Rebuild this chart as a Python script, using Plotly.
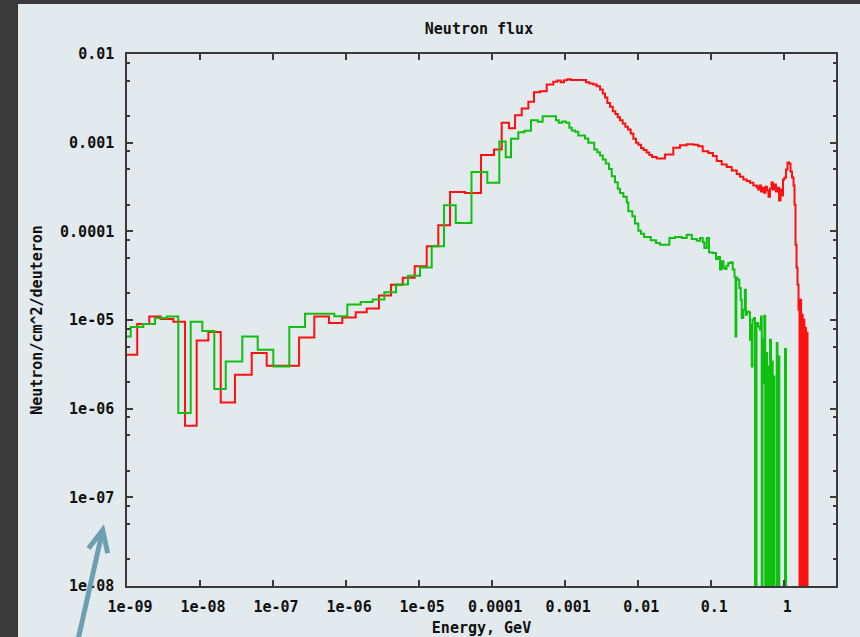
import plotly.graph_objects as go

# Neutron flux spectra: histogram bin lower edges in GeV (final upper edge appended)
# and the flux per bin in neutron/cm^2/deuteron. A zero marks an empty bin.
red_energy = [
    1.00e-9, 1.38e-9, 2.02e-9, 2.89e-9, 4.31e-9, 6.23e-9, 9.00e-9, 1.30e-8, 1.92e-8, 3.01e-8,
    5.10e-8, 8.18e-8, 2.27e-7, 3.67e-7, 5.83e-7, 8.87e-7, 1.354e-6, 1.915e-6, 2.82e-6, 4.12e-6,
    5.96e-6, 8.70e-6, 1.270e-5, 1.830e-5, 2.65e-5, 4.25e-5, 7.04e-5, 1.060e-4, 1.351e-4, 1.701e-4,
    2.06e-4, 2.54e-4, 3.13e-4, 3.74e-4, 4.52e-4, 5.58e-4, 6.88e-4, 7.80e-4, 8.68e-4, 9.63e-4,
    1.069e-3, 1.191e-3, 1.928e-3, 2.14e-3, 2.43e-3, 2.70e-3, 3.00e-3, 3.27e-3, 3.51e-3, 3.78e-3,
    4.11e-3, 4.48e-3, 4.86e-3, 5.24e-3, 5.63e-3, 6.13e-3, 6.66e-3, 7.25e-3, 7.89e-3, 8.57e-3,
    9.33e-3, 1.003e-2, 1.092e-2, 1.182e-2, 1.299e-2, 1.419e-2, 1.545e-2, 1.792e-2, 2.33e-2, 3.02e-2,
    3.73e-2, 4.61e-2, 5.68e-2, 6.65e-2, 7.64e-2, 9.12e-2, 0.1057, 0.1188, 0.1391, 0.1628,
    0.1906, 0.2232, 0.2476, 0.2748, 0.3060, 0.3395, 0.3767, 0.4194, 0.4370, 0.4582,
    0.4803, 0.5035, 0.5279, 0.5534, 0.5801, 0.6083, 0.6378, 0.6686, 0.7010, 0.7349,
    0.7704, 0.8078, 0.8469, 0.8879, 0.9309, 0.9607, 1.0072, 1.056, 1.107, 1.161,
    1.217, 1.276, 1.338, 1.381, 1.425, 1.471, 1.518, 1.566, 1.616, 1.658,
    1.700, 1.744, 1.788, 1.834, 1.881, 1.928, 1.978, 2.028, 2.080,
]
red_flux = [
    4.06e-6, 9.02e-6, 1.098e-5, 1.026e-5, 9.57e-6, 6.41e-7, 5.89e-6, 7.32e-6, 1.175e-6, 2.41e-6,
    4.24e-6, 3.05e-6, 6.36e-6, 1.098e-5, 9.25e-6, 1.070e-5, 1.219e-5, 1.352e-5, 1.895e-5, 2.50e-5,
    3.00e-5, 4.03e-5, 6.77e-5, 1.168e-4, 2.78e-4, 2.71e-4, 7.24e-4, 8.36e-4, 1.674e-3, 1.454e-3,
    2.04e-3, 2.43e-3, 2.89e-3, 3.71e-3, 3.80e-3, 4.53e-3, 4.86e-3, 5.02e-3, 4.80e-3, 5.06e-3,
    5.19e-3, 5.09e-3, 4.80e-3, 4.65e-3, 4.53e-3, 4.33e-3, 3.97e-3, 3.58e-3, 3.23e-3, 2.81e-3,
    2.54e-3, 2.26e-3, 2.11e-3, 1.935e-3, 1.790e-3, 1.643e-3, 1.508e-3, 1.405e-3, 1.267e-3, 1.104e-3,
    9.95e-4, 9.45e-4, 8.69e-4, 8.25e-4, 7.73e-4, 7.24e-4, 6.88e-4, 6.61e-4, 7.34e-4, 8.74e-4,
    9.35e-4, 9.59e-4, 9.47e-4, 9.11e-4, 7.99e-4, 7.67e-4, 7.06e-4, 6.20e-4, 5.66e-4, 5.33e-4,
    4.84e-4, 4.42e-4, 4.14e-4, 3.83e-4, 3.69e-4, 3.52e-4, 3.28e-4, 3.17e-4, 2.96e-4, 3.28e-4,
    2.81e-4, 3.11e-4, 2.73e-4, 3.19e-4, 2.88e-4, 2.46e-4, 3.03e-4, 3.55e-4, 2.96e-4, 3.37e-4,
    2.81e-4, 3.11e-4, 2.22e-4, 2.96e-4, 2.53e-4, 3.83e-4, 4.04e-4, 4.97e-4, 5.96e-4, 5.81e-4,
    4.72e-4, 4.04e-4, 3.28e-4, 2.00e-4, 7.08e-5, 3.89e-5, 2.50e-5, 1.307e-5, 0, 1.694e-5,
    0, 1.148e-5, 0, 1.008e-5, 0, 8.18e-6, 0, 7.19e-6,
]

green_energy = [
    1.00e-9, 1.124e-9, 1.672e-9, 2.42e-9, 3.50e-9, 5.04e-9, 7.45e-9, 1.074e-8, 1.568e-8, 2.25e-8,
    3.79e-8, 6.16e-8, 1.008e-7, 1.669e-7, 2.74e-7, 6.90e-7, 1.039e-6, 1.585e-6, 2.31e-6, 3.34e-6,
    4.83e-6, 7.04e-6, 1.028e-5, 1.487e-5, 2.19e-5, 3.17e-5, 5.21e-5, 8.58e-5, 1.253e-4, 1.533e-4,
    1.812e-4, 2.28e-4, 2.76e-4, 3.40e-4, 4.21e-4, 4.92e-4, 7.49e-4, 8.15e-4, 9.13e-4, 1.026e-3,
    1.139e-3, 1.228e-3, 1.363e-3, 1.512e-3, 1.868e-3, 2.07e-3, 2.50e-3, 2.75e-3, 3.00e-3, 3.27e-3,
    3.59e-3, 3.98e-3, 4.34e-3, 4.81e-3, 5.24e-3, 5.63e-3, 6.25e-3, 6.96e-3, 7.32e-3, 8.30e-3,
    9.04e-3, 1.003e-2, 1.092e-2, 1.200e-2, 1.483e-2, 1.752e-2, 1.988e-2, 2.67e-2, 3.19e-2, 3.94e-2,
    4.61e-2, 5.40e-2, 6.32e-2, 7.02e-2, 7.64e-2, 8.04e-2, 8.67e-2, 9.32e-2, 0.1047, 0.1162,
    0.1249, 0.1318, 0.1391, 0.1472, 0.1543, 0.1618, 0.1712, 0.1847, 0.1967, 0.2083,
    0.2149, 0.2204, 0.2275, 0.2423, 0.2532, 0.2613, 0.2748, 0.2881, 0.2973, 0.3088,
    0.3237, 0.3395, 0.3481, 0.3581, 0.3673, 0.3851, 0.3975, 0.4166, 0.4410, 0.4653,
    0.4803, 0.4909, 0.5035, 0.5164, 0.5329, 0.5482, 0.5622, 0.5801, 0.5987, 0.6179,
    0.6378, 0.6581, 0.6729, 0.6944, 0.7122, 0.7303, 0.7876, 0.8078, 0.8283, 0.8551,
    1.023, 1.056,
]
green_flux = [
    6.53e-6, 8.34e-6, 9.02e-6, 1.053e-5, 1.098e-5, 8.92e-7, 9.57e-6, 7.51e-6, 1.664e-6, 3.41e-6,
    6.53e-6, 4.62e-6, 2.99e-6, 8.34e-6, 1.178e-5, 1.104e-5, 1.500e-5, 1.596e-5, 1.708e-5, 2.05e-5,
    2.52e-5, 3.16e-5, 3.92e-5, 6.77e-5, 1.966e-4, 1.244e-4, 4.66e-4, 3.52e-4, 1.029e-3, 6.84e-4,
    1.104e-3, 1.310e-3, 1.359e-3, 1.790e-3, 1.717e-3, 1.986e-3, 1.790e-3, 1.674e-3, 1.730e-3, 1.674e-3,
    1.469e-3, 1.370e-3, 1.324e-3, 1.202e-3, 1.113e-3, 9.95e-4, 8.36e-4, 7.79e-4, 7.15e-4, 6.45e-4,
    5.81e-4, 5.06e-4, 4.18e-4, 3.57e-4, 3.03e-4, 2.71e-4, 2.46e-4, 2.11e-4, 1.681e-4, 1.476e-4,
    1.222e-4, 1.018e-4, 9.42e-5, 8.65e-5, 7.91e-5, 7.40e-5, 7.08e-5, 8.42e-5, 8.65e-5, 8.42e-5,
    9.18e-5, 8.21e-5, 7.85e-5, 8.42e-5, 7.51e-5, 6.49e-5, 8.42e-5, 5.79e-5, 5.70e-5, 4.88e-5,
    5.14e-5, 3.70e-5, 4.59e-5, 3.89e-5, 3.76e-5, 4.10e-5, 4.40e-5, 4.47e-5, 3.70e-5, 3.08e-5,
    6.53e-6, 3.00e-5, 2.85e-5, 2.30e-5, 1.694e-5, 1.053e-5, 1.307e-5, 2.20e-5, 1.148e-5, 1.251e-5,
    1.219e-5, 5.99e-6, 8.85e-6, 2.99e-6, 1.008e-5, 1.053e-5, 0, 9.25e-6, 8.47e-6, 7.77e-6,
    1.098e-5, 0, 5.99e-6, 1.945e-6, 1.118e-5, 0, 4.24e-6, 0, 2.99e-6, 0,
    5.99e-6, 0, 3.41e-6, 0, 2.31e-6, 0, 5.50e-6, 0, 3.88e-6, 0,
    4.71e-6,
]

x_tickvals = [1e-9, 1e-8, 1e-7, 1e-6, 1e-5, 1e-4, 1e-3, 1e-2, 1e-1, 1]
x_ticktext = ["1e-09", "1e-08", "1e-07", "1e-06", "1e-05", "0.0001", "0.001", "0.01", "0.1", "1"]
y_tickvals = [1e-8, 1e-7, 1e-6, 1e-5, 1e-4, 1e-3, 1e-2]
y_ticktext = ["1e-08", "1e-07", "1e-06", "1e-05", "0.0001", "0.001", "0.01"]
y_minor = [m * 10.0 ** k for k in range(-8, -2) for m in (2, 5, 8)]

# Empty bins cannot sit on a log axis; draw them far below the visible range
EMPTY = 1e-14


def step_points(edges, flux):
    ys = [f if f > 0 else EMPTY for f in flux]
    return list(edges), ys + [EMPTY]


FONT = dict(family="DejaVu Sans Mono", size=15, color="#111111", weight="bold")
AXIS = "#3a3a3a"
BG = "#e2eaed"

fig = go.Figure()
for edges, flux, color, name in (
    (red_energy, red_flux, "#ff1010", "red"),
    (green_energy, green_flux, "#10c010", "green"),
):
    xs, ys = step_points(edges, flux)
    fig.add_trace(go.Scatter(
        x=xs, y=ys, mode="lines", name=name,
        line=dict(shape="hv", color=color, width=2, simplify=False),
    ))

fig.update_layout(
    width=860, height=637,
    margin=dict(l=127, r=24, t=54, b=51, autoexpand=False),
    paper_bgcolor=BG, plot_bgcolor=BG,
    showlegend=False,
    font=FONT,
    title=dict(text="Neutron flux", font=FONT, xref="container", yref="container",
               x=479 / 860, y=1 - 29 / 637, xanchor="center", yanchor="middle"),
)
fig.update_xaxes(
    type="log", range=[-9, 0.708], automargin=False,
    tickvals=x_tickvals, ticktext=x_ticktext,
    ticks="inside", ticklen=6, tickwidth=1.5, tickcolor=AXIS,
    showline=True, linecolor=AXIS, linewidth=1.5, mirror="ticks",
    showgrid=False, zeroline=False,
    ticklabelstandoff=6, ticklabelshift=3,
    title=dict(text="Energy, GeV", font=FONT, standoff=10),
)
fig.update_yaxes(
    type="log", range=[-8, -2], automargin=False,
    tickvals=y_tickvals, ticktext=y_ticktext,
    ticks="inside", ticklen=6, tickwidth=1.5, tickcolor=AXIS,
    minor=dict(tickvals=y_minor, ticks="inside", ticklen=3.5, tickwidth=1.5, tickcolor=AXIS, showgrid=False),
    showline=True, linecolor=AXIS, linewidth=1.5, mirror="ticks",
    showgrid=False, zeroline=False,
    ticklabelstandoff=8,
    title=dict(text="Neutron/cm^2/deuteron", font=FONT, standoff=14),
)

# Dark window frame along the top and left edges
for x0, x1, y0, y1 in ((-0.18, 1.04, 1.094, 1.11), (-0.18, -0.1537, -0.11, 1.11)):
    fig.add_shape(type="rect", xref="paper", yref="paper", x0=x0, x1=x1, y0=y0, y1=y1,
                  line=dict(width=0), fillcolor="#3a3a3a", layer="above")

# Pointer arrow in the lower-left margin
fig.add_shape(type="path", xref="paper", yref="paper",
              path="M -0.0691 -0.1015 L -0.0346 0.1034",
              line=dict(color="#6e9fb0", width=5))
fig.add_shape(type="path", xref="paper", yref="paper",
              path="M -0.0543 0.0705 L -0.0343 0.1053 L -0.0272 0.0615",
              line=dict(color="#6e9fb0", width=5))

fig.write_html("out.html")
